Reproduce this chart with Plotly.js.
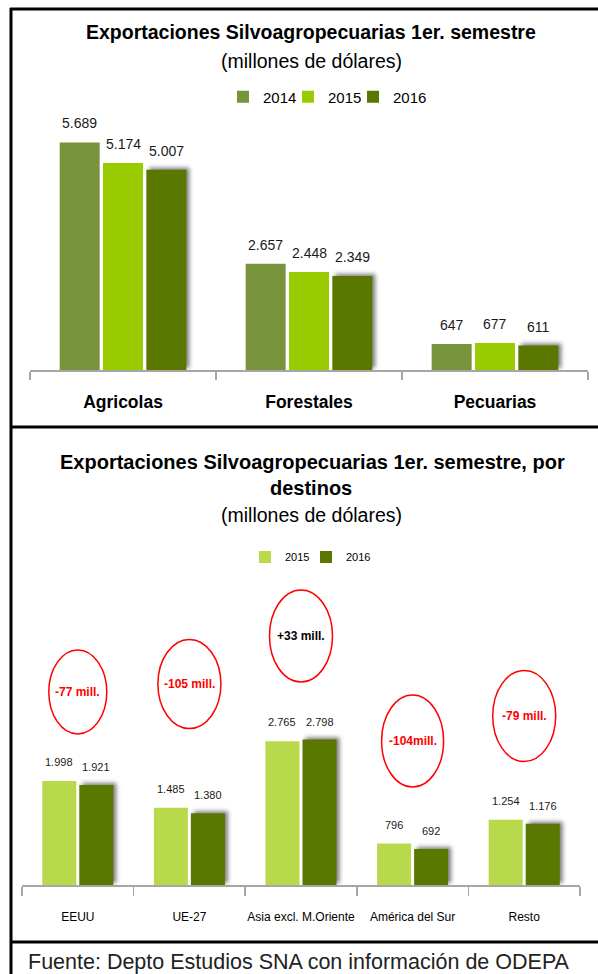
<!DOCTYPE html>
<html>
<head>
<meta charset="utf-8">
<script src="https://cdn.plot.ly/plotly-3.0.1.min.js"></script>
<style>
html,body{margin:0;padding:0;background:#fff;}
#chart{width:598px;height:974px;}
</style>
</head>
<body>
<div id="chart"></div>
<script>
// ---- data ----
var cats1 = ['Agricolas', 'Forestales', 'Pecuarias'];
var v2014 = [5689, 2657, 647];
var v2015 = [5174, 2448, 677];
var v2016 = [5007, 2349, 611];

var cats2 = ['EEUU', 'UE-27', 'Asia excl. M.Oriente', 'América del Sur', 'Resto'];
var d2015 = [1998, 1485, 2765, 796, 1254];
var d2016 = [1921, 1380, 2798, 692, 1176];
var diffLabels = ['-77 mill.', '-105 mill.', '+33 mill.', '-104mill.', '-79 mill.'];
var diffColors = ['#FF0000', '#FF0000', '#000000', '#FF0000', '#FF0000'];

// ---- layout helpers ----
var W = 598, H = 974;
function px(x) { return x / W; }
function py(y) { return 1 - y / H; }
function fmt(v) { return String(v).replace(/\B(?=(\d{3})+(?!\d))/g, '.'); }

var SANS = '"Liberation Sans", Arial, sans-serif';

// ellipse placement (pixels) for annotations of chart 2
var ellCY = [692, 684, 636, 741, 716];
var ellH = [84, 89, 92, 92, 91];
var ellW = [58, 63, 63, 62, 63];

var w1 = 0.215, g1 = 0.018;
var s1 = -(3 * w1 + 2 * g1) / 2;
var w2 = 0.305, g2 = 0.027;
var s2 = -(2 * w2 + g2) / 2;

var annotations = [];

function barTrace(name, x, y, color, xa, ya, off, w, fs, shift, leg) {
  for (var i = 0; i < y.length; i++) {
    annotations.push({
      text: fmt(y[i]), xref: xa, yref: ya, x: i + off + w / 2, y: y[i],
      yshift: shift, showarrow: false, xanchor: 'center', yanchor: 'middle',
      font: {family: SANS, size: fs, color: '#1a1a1a'}
    });
  }
  return {
    type: 'bar', name: name, x: x, y: y,
    xaxis: xa, yaxis: ya, legend: leg,
    marker: {color: color},
    width: w, offset: off,
    hoverinfo: 'skip'
  };
}

var data = [
  barTrace('2014', cats1, v2014, '#77933C', 'x', 'y', s1, w1, 14, 19, 'legend'),
  barTrace('2015', cats1, v2015, '#99CC00', 'x', 'y', s1 + w1 + g1, w1, 14, 19, 'legend3'),
  barTrace('2016', cats1, v2016, '#5A7800', 'x', 'y', s1 + 2 * (w1 + g1), w1, 14, 19, 'legend4'),
  barTrace('2015', cats2, d2015, '#B8D94C', 'x2', 'y2', s2, w2, 11, 19, 'legend2'),
  barTrace('2016', cats2, d2016, '#5A7800', 'x2', 'y2', s2 + w2 + g2, w2, 11, 18, 'legend5')
];

var shapes = [
  // frame
  {type: 'line', xref: 'paper', yref: 'paper', x0: px(11), x1: px(11), y0: py(8), y1: py(980), line: {color: '#000', width: 3}},
  {type: 'line', xref: 'paper', yref: 'paper', x0: px(10), x1: px(600), y0: py(9), y1: py(9), line: {color: '#000', width: 3}},
  {type: 'line', xref: 'paper', yref: 'paper', x0: px(10), x1: px(600), y0: py(427), y1: py(427), line: {color: '#000', width: 3}},
  {type: 'line', xref: 'paper', yref: 'paper', x0: px(10), x1: px(600), y0: py(942), y1: py(942), line: {color: '#000', width: 3}}
];

annotations.push(
  {text: '<b>Exportaciones Silvoagropecuarias 1er. semestre</b>', xref: 'paper', yref: 'paper', x: px(311), y: py(32), showarrow: false, xanchor: 'center', yanchor: 'middle', font: {family: SANS, size: 19.5, color: '#000'}},
  {text: '(millones de dólares)', xref: 'paper', yref: 'paper', x: px(311), y: py(61), showarrow: false, xanchor: 'center', yanchor: 'middle', font: {family: SANS, size: 19.5, color: '#000'}},
  {text: '<b>Exportaciones Silvoagropecuarias 1er. semestre, por</b>', xref: 'paper', yref: 'paper', x: px(312), y: py(462), showarrow: false, xanchor: 'center', yanchor: 'middle', font: {family: SANS, size: 20, color: '#000'}},
  {text: '<b>destinos</b>', xref: 'paper', yref: 'paper', x: px(311), y: py(488), showarrow: false, xanchor: 'center', yanchor: 'middle', font: {family: SANS, size: 20, color: '#000'}},
  {text: '(millones de dólares)', xref: 'paper', yref: 'paper', x: px(311), y: py(515), showarrow: false, xanchor: 'center', yanchor: 'middle', font: {family: SANS, size: 19.5, color: '#000'}},
  {text: 'Fuente: Depto Estudios SNA con información de ODEPA', xref: 'paper', yref: 'paper', x: px(26), y: py(962), showarrow: false, xanchor: 'left', yanchor: 'middle', font: {family: SANS, size: 21.5, color: '#222'}}
);

for (var i = 0; i < cats2.length; i++) {
  shapes.push({
    type: 'circle', xref: 'x2', yref: 'paper',
    xsizemode: 'pixel', xanchor: i,
    x0: -ellW[i] / 2, x1: ellW[i] / 2,
    y0: py(ellCY[i] + ellH[i] / 2), y1: py(ellCY[i] - ellH[i] / 2),
    line: {color: '#FF0000', width: 1.5}, fillcolor: 'rgba(0,0,0,0)'
  });
  annotations.push({
    text: '<b>' + diffLabels[i] + '</b>', xref: 'x2', yref: 'paper',
    x: i, y: py(ellCY[i]), showarrow: false, xanchor: 'center', yanchor: 'middle',
    font: {family: SANS, size: 12, color: diffColors[i]}
  });
}

function legendAt(xPix, yPix, size) {
  return {
    orientation: 'h', xref: 'paper', yref: 'paper',
    x: px(xPix), y: py(yPix), xanchor: 'left', yanchor: 'middle',
    font: {family: SANS, size: size, color: '#000'},
    itemwidth: 30, bgcolor: 'rgba(0,0,0,0)'
  };
}

var layout = {
  width: W, height: H,
  margin: {l: 0, r: 0, t: 0, b: 0},
  paper_bgcolor: '#fff', plot_bgcolor: 'rgba(0,0,0,0)',
  barmode: 'overlay',
  showlegend: true,
  xaxis: {
    domain: [px(30), px(588)], anchor: 'y',
    type: 'category', categoryorder: 'array', categoryarray: cats1,
    range: [-0.5, 2.5],
    showline: true, linecolor: '#A6A6A6', linewidth: 1.5,
    ticks: 'outside', tickson: 'boundaries', ticklen: 8, tickcolor: '#A6A6A6', tickwidth: 1.5,
    tickfont: {family: SANS, size: 17.5, color: '#000', weight: 'bold'},
    ticklabelstandoff: 15, tickangle: 0,
    showgrid: false, zeroline: false, fixedrange: true
  },
  yaxis: {
    domain: [py(370), py(130)], anchor: 'x',
    range: [0, 6000], visible: false, showgrid: false, zeroline: false, fixedrange: true
  },
  xaxis2: {
    domain: [px(22), px(580)], anchor: 'y2',
    type: 'category', categoryorder: 'array', categoryarray: cats2,
    range: [-0.5, 4.5],
    showline: true, linecolor: '#A6A6A6', linewidth: 1.5,
    ticks: 'outside', tickson: 'boundaries', ticklen: 9, tickcolor: '#A6A6A6', tickwidth: 1.5,
    tickfont: {family: SANS, size: 12, color: '#000'},
    ticklabelstandoff: 20, tickangle: 0,
    showgrid: false, zeroline: false, fixedrange: true
  },
  yaxis2: {
    domain: [py(885), py(729)], anchor: 'x2',
    range: [0, 3000], visible: false, showgrid: false, zeroline: false, fixedrange: true
  },
  legend: legendAt(223, 97, 15),
  legend3: legendAt(288, 97, 15),
  legend4: legendAt(353, 97, 15),
  legend2: legendAt(245, 557, 11),
  legend5: legendAt(306, 557, 11),
  shapes: shapes,
  annotations: annotations
};

Plotly.newPlot('chart', data, layout, {displayModeBar: false, staticPlot: true}).then(function (gd) {
  // soft drop shadow on the 2016 bars, as in the reference
  var paths = gd.querySelectorAll('.barlayer .point path');
  paths.forEach(function (p) {
    var f = (p.style.fill || '').replace(/\s/g, '');
    if (f === 'rgb(90,120,0)') {
      p.style.filter = 'drop-shadow(3px -2px 2px rgba(0,0,0,0.5))';
    }
  });
});
</script>
</body>
</html>
